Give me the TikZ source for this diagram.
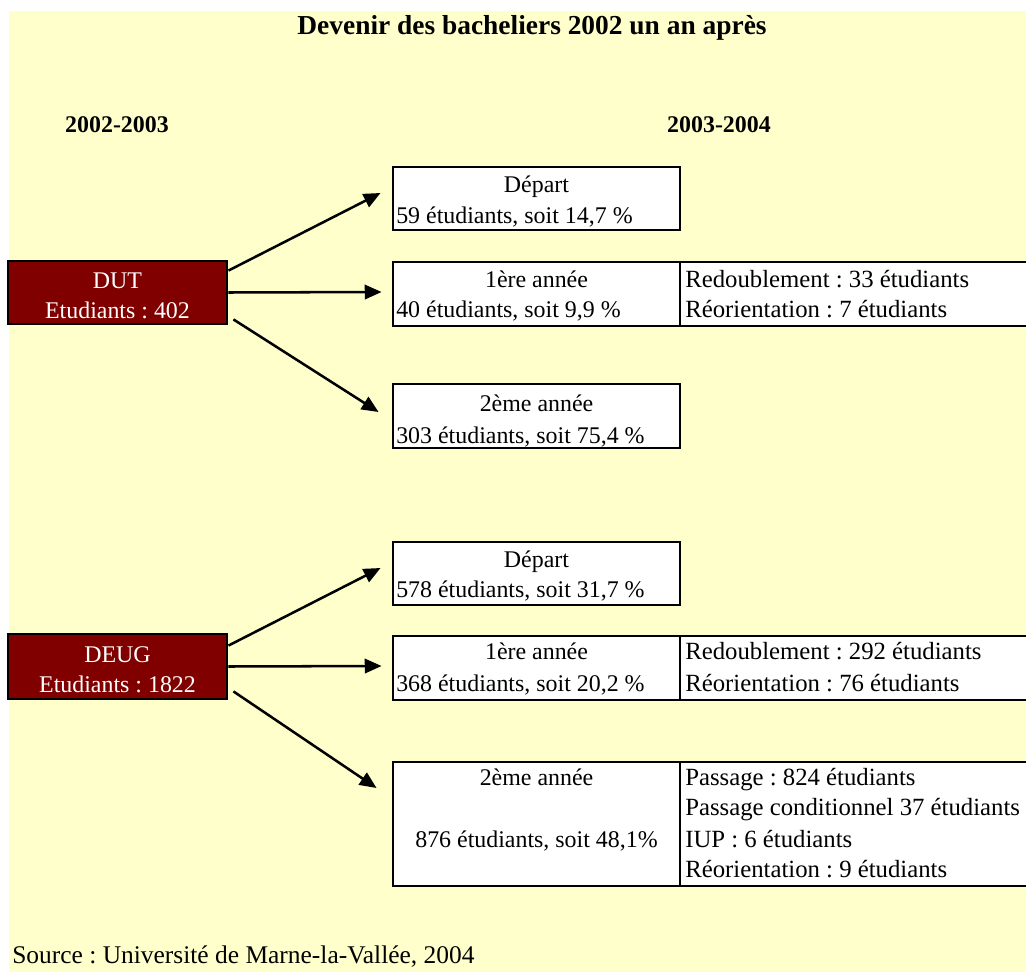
\documentclass[tikz,border=0pt]{standalone}
\usepackage{fontspec}
\setmainfont{Liberation Serif}
\usetikzlibrary{arrows.meta}
\definecolor{fond}{HTML}{FFFFCC}
\definecolor{bordeaux}{HTML}{800000}
\newcommand{\corps}{\fontsize{17}{20}\selectfont}
\frenchspacing
\begin{document}
\begin{tikzpicture}[x=0.025cm, y=-0.025cm, >={Triangle[length=0.42cm,width=0.36cm]},
  font=\corps,
  cell/.style={draw, fill=white, line width=2pt, inner sep=0pt, minimum width=7.175cm},
  cellr/.style={draw, fill=white, line width=2pt, inner sep=0pt, minimum width=8.725cm},
  diplome/.style={draw, fill=bordeaux, text=white, line width=2pt, inner sep=0pt,
    minimum width=5.475cm, align=center, font=\fontsize{17}{21.3}\selectfont},
  txt/.style={inner sep=0pt, anchor=mid, yshift=-0.1cm},
  txtl/.style={inner sep=0pt, anchor=mid west, yshift=-0.1cm},
  txtr/.style={txtl, font=\fontsize{17.6}{20}\selectfont},
  arr/.style={->, line width=1.8pt}]
\useasboundingbox (0,0) rectangle (1026,972);
\fill[fond] (9,11) rectangle (1026,972);
% titres
\node[txt, font=\fontsize{19.5}{23}\selectfont\bfseries] (titre) at (532,27) {Devenir des bacheliers 2002 un an après};
\node[txt, font=\corps\bfseries] (an1) at (117,125) {2002-2003};
\node[txt, font=\corps\bfseries] (an2) at (719,125) {2003-2004};
% DUT
\node[diplome, minimum height=1.575cm] (dut) at (117.5,292.5) {\rule{0pt}{0.55cm}DUT\\Etudiants : 402};
\node[cell, minimum height=1.575cm] (dutdep) at (536.5,198.5) {};
\node[cell, minimum height=1.6cm] (dut1l) at (536.5,294) {};
\node[cellr, minimum height=1.6cm] (dut1r) at (854.5,294) {};
\node[cell, minimum height=1.6cm] (dut2) at (536.5,416) {};
\node[txt] (dutdepa) at (536.5,185) {Départ};
\node[txtl] (dutdepb) at (396,216) {59 étudiants, soit 14,7 \%};
\node[txt] (dut1a) at (536.5,280) {1ère année};
\node[txtl] (dut1b) at (396,310) {40 étudiants, soit 9,9 \%};
\node[txtr] (dut1c) at (685,280) {Redoublement : 33 étudiants};
\node[txtr] (dut1d) at (685,310) {Réorientation : 7 étudiants};
\node[txt] (dut2a) at (536.5,404) {2ème année};
\node[txtl] (dut2b) at (396,436) {303 étudiants, soit 75,4 \%};
\draw[arr] ([shift={(0,11)}]dut.north east) -- ([shift={(-11,-5.5)}]dutdep.west);
\draw[arr] (dut.east) -- ([shift={(-10,-2)}]dut1l.west);
\draw[arr] ([shift={(5,-6)}]dut.south east) -- ([shift={(-13,-4)}]dut2.west);
% DEUG
\node[diplome, minimum height=1.625cm] (deug) at (117.5,666.5) {\rule{0pt}{0.55cm}DEUG\\Etudiants : 1822};
\node[cell, minimum height=1.575cm] (deugdep) at (536.5,573.5) {};
\node[cell, minimum height=1.6cm] (deug1l) at (536.5,668) {};
\node[cellr, minimum height=1.6cm] (deug1r) at (854.5,668) {};
\node[cell, minimum height=3.1cm] (deug2l) at (536.5,824) {};
\node[cellr, minimum height=3.1cm] (deug2r) at (854.5,824) {};
\node[txt] (deugdepa) at (536.5,560) {Départ};
\node[txtl] (deugdepb) at (396,590) {578 étudiants, soit 31,7 \%};
\node[txt] (deug1a) at (536.5,652) {1ère année};
\node[txtl] (deug1b) at (396,684) {368 étudiants, soit 20,2 \%};
\node[txtr] (deug1c) at (685,652) {Redoublement : 292 étudiants};
\node[txtr] (deug1d) at (685,684) {Réorientation : 76 étudiants};
\node[txt] (deug2a) at (536.5,778) {2ème année};
\node[txt] (deug2b) at (536.5,840) {876 étudiants, soit 48,1\%};
\node[txtr] (deug2c) at (685,778) {Passage : 824 étudiants};
\node[txtr] (deug2d) at (685,808) {Passage conditionnel 37 étudiants};
\node[txtr] (deug2e) at (685,840) {IUP : 6 étudiants};
\node[txtr] (deug2f) at (685,870) {Réorientation : 9 étudiants};
\draw[arr] ([shift={(0,13)}]deug.north east) -- ([shift={(-11,-5.5)}]deugdep.west);
\draw[arr] (deug.east) -- ([shift={(-10,-2)}]deug1l.west);
\draw[arr] ([shift={(5,-9)}]deug.south east) -- ([shift={(-15,-36)}]deug2l.west);
% source
\node[txtl, font=\fontsize{18.1}{20}\selectfont] (source) at (12,956) {Source : Université de Marne-la-Vallée, 2004};
\end{tikzpicture}
\end{document}
